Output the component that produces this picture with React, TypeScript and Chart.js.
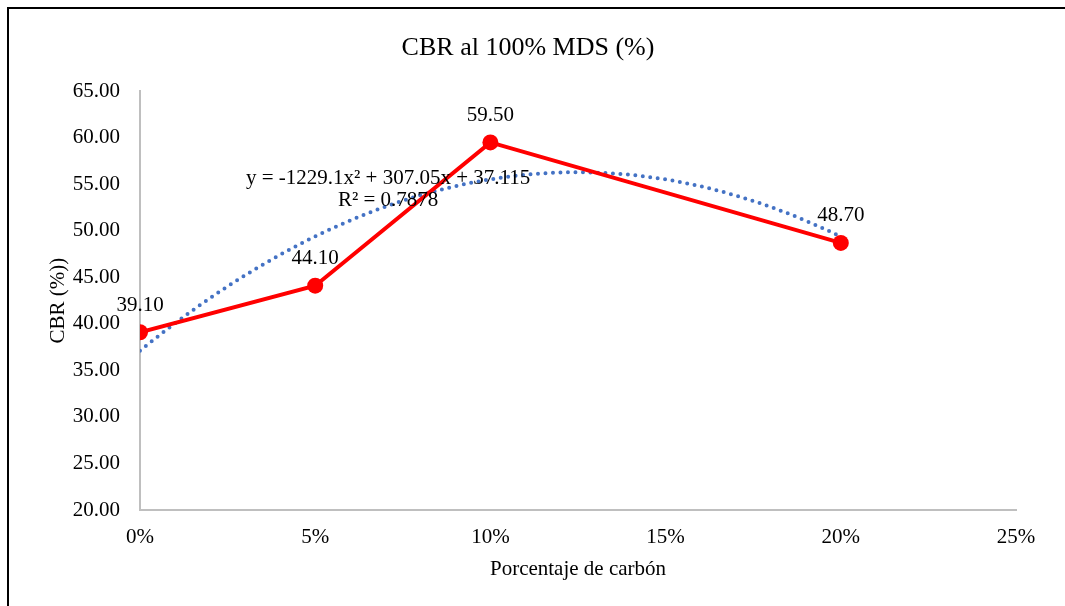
import React, { useEffect, useRef } from "react";
import { Chart, registerables } from "chart.js";

Chart.register(...registerables);

// Carbon content (fraction) and measured CBR at 100% MDS
const CARBON_PCT = [0, 0.05, 0.1, 0.2];
const CBR_VALUES = [39.1, 44.1, 59.5, 48.7];

// Polynomial trendline: y = a*x^2 + b*x + c
const TREND_COEFFS = [-1229.1, 307.05, 37.115];
const TREND_R2 = 0.7878;
const TREND_RANGE = [0, 0.2];

const X_MIN = 0;
const X_MAX = 0.25;
const X_STEP = 0.05;
const Y_MIN = 20;
const Y_MAX = 65;
const Y_STEP = 5;

// Where the trendline equation is placed, in data units (x, y)
const EQ_ANCHOR = [0.0708, 55.6];

const SERIF = "'Liberation Serif', 'Times New Roman', Times, serif";

const trendValue = (x: number) =>
  TREND_COEFFS[0] * x * x + TREND_COEFFS[1] * x + TREND_COEFFS[2];

function buildTrend() {
  const pts: { x: number; y: number }[] = [];
  const n = 100;
  for (let i = 0; i <= n; i++) {
    const x = TREND_RANGE[0] + ((TREND_RANGE[1] - TREND_RANGE[0]) * i) / n;
    pts.push({ x, y: trendValue(x) });
  }
  return pts;
}

const valueLabels = {
  id: "valueLabels",
  afterDatasetsDraw(chart: any) {
    const meta = chart.getDatasetMeta(1);
    const ds = chart.data.datasets[1];
    const ctx = chart.ctx;
    ctx.save();
    ctx.font = `21px ${SERIF}`;
    ctx.fillStyle = "#000";
    ctx.textAlign = "center";
    ctx.textBaseline = "middle";
    meta.data.forEach((pt: any, i: number) => {
      const v = ds.data[i].y as number;
      ctx.fillText(v.toFixed(2), pt.x, pt.y - 27);
    });
    ctx.restore();
  },
};

const trendEquation = {
  id: "trendEquation",
  afterDatasetsDraw(chart: any) {
    const { ctx, scales } = chart;
    const cx = scales.x.getPixelForValue(EQ_ANCHOR[0]);
    const cy = scales.y.getPixelForValue(EQ_ANCHOR[1]);
    const [a, b, c] = TREND_COEFFS;
    const line1 = `y = ${a}x² + ${b}x + ${c}`;
    const line2 = `R² = ${TREND_R2}`;
    ctx.save();
    ctx.font = `21px ${SERIF}`;
    ctx.fillStyle = "#000";
    ctx.textAlign = "center";
    ctx.textBaseline = "middle";
    ctx.fillText(line1, cx, cy);
    ctx.fillText(line2, cx, cy + 22);
    ctx.restore();
  },
};

export default function App() {
  const canvasRef = useRef<HTMLCanvasElement | null>(null);

  useEffect(() => {
    if (!canvasRef.current) return;
    const chart = new Chart(canvasRef.current, {
      type: "line",
      data: {
        datasets: [
          {
            label: "Poly. (CBR)",
            data: buildTrend(),
            borderColor: "#4472C4",
            borderWidth: 4,
            borderDash: [0, 7.5],
            borderCapStyle: "round",
            pointRadius: 0,
            fill: false,
            tension: 0,
            order: 2,
          },
          {
            label: "CBR",
            data: CARBON_PCT.map((x, i) => ({ x, y: CBR_VALUES[i] })),
            borderColor: "#FF0000",
            backgroundColor: "#FF0000",
            borderWidth: 4,
            pointRadius: 8,
            pointBorderWidth: 0,
            pointBackgroundColor: "#FF0000",
            fill: false,
            tension: 0,
            order: 1,
          },
        ],
      },
      options: {
        responsive: false,
        animation: false,
        devicePixelRatio: 1,
        layout: { padding: { top: 20, left: 40, right: 49, bottom: 18 } },
        plugins: {
          legend: { display: false },
          tooltip: { enabled: false },
          title: {
            display: true,
            text: "CBR al 100% MDS (%)",
            color: "#000",
            font: { family: SERIF, size: 26, weight: "normal" },
            padding: { top: 13, bottom: 27 },
          },
        },
        scales: {
          x: {
            type: "linear",
            min: X_MIN,
            max: X_MAX,
            grid: { display: false },
            border: { display: true, color: "#BFBFBF", width: 2 },
            ticks: {
              stepSize: X_STEP,
              color: "#000",
              padding: 7,
              font: { family: SERIF, size: 21 },
              callback: (v: any) => `${Math.round(Number(v) * 100)}%`,
            },
            title: {
              display: true,
              text: "Porcentaje de carbón",
              color: "#000",
              font: { family: SERIF, size: 21 },
              padding: { top: 4, bottom: 6 },
            },
            afterFit: (scale: any) => {
              scale.height = 78;
            },
          },
          y: {
            type: "linear",
            min: Y_MIN,
            max: Y_MAX,
            grid: { display: false },
            border: { display: true, color: "#BFBFBF", width: 2 },
            ticks: {
              stepSize: Y_STEP,
              color: "#000",
              padding: 12,
              font: { family: SERIF, size: 21 },
              callback: (v: any) => Number(v).toFixed(2),
            },
            title: {
              display: true,
              text: "CBR (%))",
              color: "#000",
              font: { family: SERIF, size: 21 },
              padding: { top: 6, bottom: 0 },
            },
            afterFit: (scale: any) => {
              scale.width = 100;
            },
          },
        },
      },
      plugins: [valueLabels, trendEquation],
    });
    return () => chart.destroy();
  }, []);

  return (
    <div
      style={{
        position: "absolute",
        left: 0,
        top: 0,
        width: 1065,
        height: 606,
        overflow: "hidden",
        background: "#fff",
      }}
    >
      <div
        style={{
          position: "absolute",
          left: 7,
          top: 7,
          width: 1070,
          height: 640,
          border: "2px solid #000",
          boxSizing: "border-box",
        }}
      />
      <canvas
        ref={canvasRef}
        width={1065}
        height={606}
        style={{ position: "absolute", left: 0, top: 0, width: 1065, height: 606 }}
      />
    </div>
  );
}
